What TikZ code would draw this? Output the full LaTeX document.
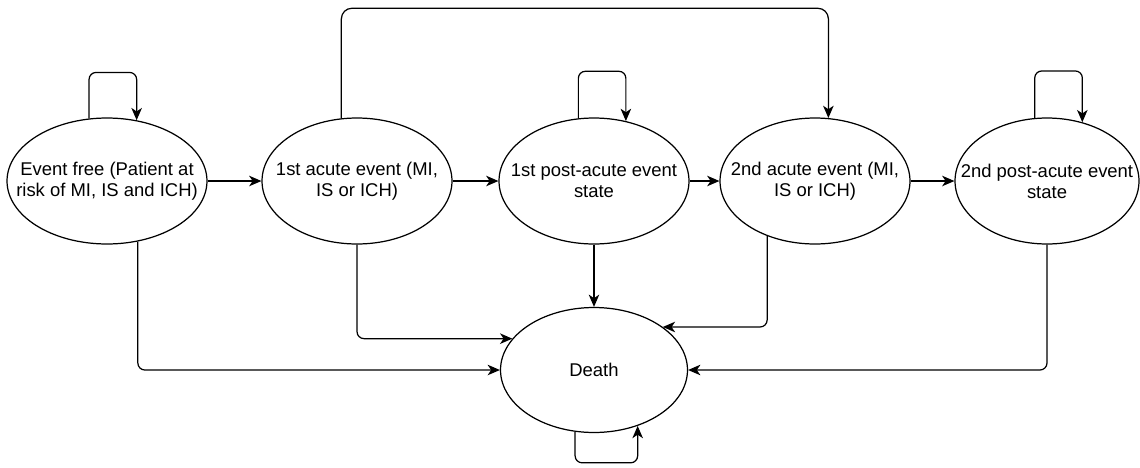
\documentclass[tikz,border=0pt]{standalone}
\usepackage{fontspec}
\setmainfont{Liberation Sans}
\usepackage{tikz}
\usetikzlibrary{shapes.geometric}
\usetikzlibrary{arrows.meta}
\tikzset{
  state/.style={draw, ellipse, line width=0.7pt, inner sep=0pt,
    minimum width=3.8cm, minimum height=2.52cm},
  tr/.style={line width=0.7pt, rounded corners=4pt,
    -{Stealth[length=7pt, width=6pt, inset=2pt]}},
  every label/.append style={align=center, inner sep=0pt,
    font=\fontsize{10.5}{12}\selectfont}
}

\begin{document}
\begin{tikzpicture}[x=0.02cm, y=-0.02cm]
		\useasboundingbox (0,0) rectangle (1140,467);
		\node[state, minimum width=4cm, label=center:{Event free (Patient at\\risk of MI, IS and ICH)}] (e1) at (107,181) {};
		\node[state, label=center:{1st acute event (MI,\\IS or ICH)}] (e2) at (357,181) {};
		\node[state, label=center:{1st post-acute event\\state}] (e3) at (594,181) {};
		\node[state, label=center:{2nd acute event (MI,\\IS or ICH)}] (e4) at (815,181) {};
		\node[state, minimum width=3.68cm, label=center:{2nd post-acute event\\state}] (e5) at (1047,181) {};
		\node[state, minimum width=3.74cm, minimum height=2.5cm, label=center:{Death}] (death) at (594,370) {};
		%
		\draw[tr] (e1) -- (e2);
		\draw[tr] (e2) -- (e3);
		\draw[tr] (e3) -- (e4);
		\draw[tr] (e4) -- (e5);
		%
		\draw[tr] (e1.106) -- ++(0,-46) -| (e1.64);
		\draw[tr] (e3.104) -- ++(0,-47) -| (e3.62);
		\draw[tr] (e5.101) -- ++(0,-47) -| (e5.59);
		\draw[tr, rounded corners=6pt] (e2.104) -- ++(0,-110) -| (e4.78);
		%
		\draw[tr] (e1.297) |- (death.west);
		\draw[tr] (e2.south) |- (death.159);
		\draw[tr] (e3) -- (death);
		\draw[tr] (e4.229) |- (death.32);
		\draw[tr] (e5.south) |- (death.east);
		\draw[tr] (death.253) -- ++(0,31) -| (death.308);
	\end{tikzpicture}
\end{document}
